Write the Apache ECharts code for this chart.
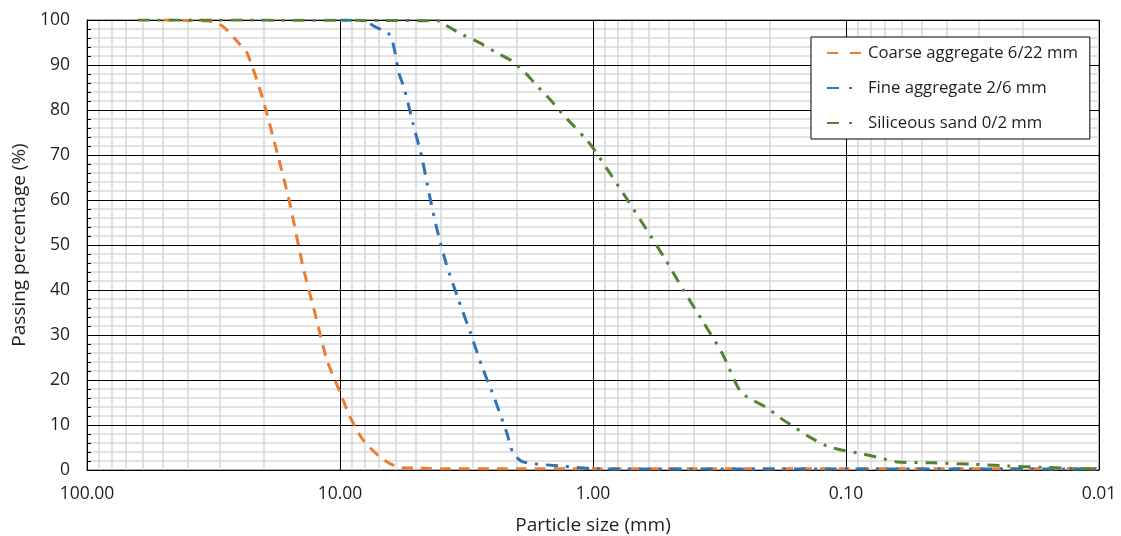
<!DOCTYPE html>
<html><head><meta charset="utf-8">
<script src="https://cdn.jsdelivr.net/npm/echarts@6/dist/echarts.min.js"></script>
<style>html,body{margin:0;padding:0;background:#fff}#c{width:1121px;height:536px}</style>
</head><body><div id="c"></div>
<script>
const seriesNames = ['Coarse aggregate 6/22 mm', 'Fine aggregate 2/6 mm', 'Siliceous sand 0/2 mm'];
const xTicks = [100, 10, 1, 0.1, 0.01];

const coarseSize = [50, 31.5, 28.5, 25, 23.3, 20.3, 17.7, 15.8, 14.0, 12.56, 11.26, 10, 9.13, 8.11, 6.95, 5.95, 5, 4, 2, 1, 0.5, 0.25, 0.125, 0.063, 0.02, 0.01];
const coarsePass = [100, 99.6, 98.2, 94.7, 92.7, 82.9, 70.4, 59.3, 45.1, 34.9, 24.4, 17.3, 11.8, 6.7, 2.9, 0.7, 0.4, 0.3, 0.3, 0.3, 0.3, 0.3, 0.3, 0.3, 0.3, 0.3];

const fineSize = [10, 8, 7.27, 6.46, 6.23, 6.06, 5.85, 5.58, 5.15, 4.74, 4.45, 4.14, 3.81, 3.42, 3.06, 2.75, 2.44, 2.19, 2.07, 1.89, 1.35, 1, 0.5, 0.1, 0.01];
const finePass = [100, 99.8, 98.5, 97.1, 95.6, 92.7, 88.2, 84.9, 77.1, 69.3, 61.6, 53.6, 46.0, 38.2, 30.7, 23.1, 15.6, 8.2, 3.8, 1.8, 0.9, 0.3, 0.2, 0.2, 0.2];

const sandSize = [63, 4, 3.78, 3.27, 2.80, 2.40, 2.09, 1.82, 1.66, 1.48, 1.33, 1.18, 1.07, 1.0, 0.88, 0.734, 0.617, 0.519, 0.437, 0.367, 0.309, 0.262, 0.235, 0.205, 0.182, 0.158, 0.139, 0.119, 0.103, 0.0865, 0.0734, 0.0629, 0.0453, 0.0324, 0.0231, 0.0168, 0.0119, 0.01];
const sandPass = [100, 99.8, 98.7, 96.7, 94.9, 92.7, 90.9, 87.8, 85.3, 82.4, 79.3, 76.2, 73.6, 71.6, 66.9, 60.2, 53.6, 46.9, 39.8, 32.9, 26.0, 17.5, 15.6, 13.8, 11.6, 9.3, 7.3, 5.3, 4.4, 3.6, 2.7, 1.8, 1.6, 1.3, 0.9, 0.6, 0.3, 0.2];

const colors = ['#ED7D31', '#2E75B6', '#548235'];
const FONT = 'Open Sans';
const TXT = '#1f1f1f';

function pairs(xs, ys) { return xs.map((x, i) => [x, ys[i]]); }

const minorGrid = [];
for (let k = -2; k <= 1; k++) for (let m = 2; m <= 9; m++) minorGrid.push(+(m * Math.pow(10, k)).toPrecision(3));

const chart = echarts.init(document.getElementById('c'), null, { renderer: 'canvas' });
const lineBase = { type: 'line', showSymbol: false, symbol: 'none', smooth: 0.25, z: 5, animation: false };
chart.setOption({
  animation: false,
  backgroundColor: '#fff',
  grid: { left: 87, right: 22, top: 20, bottom: 66, show: true, borderColor: '#595959', borderWidth: 1, backgroundColor: 'transparent',
    containLabel: false, outerBoundsMode: 'none' },
  legend: {
    orient: 'vertical', left: 811, top: 37,
    padding: [6, 12, 6, 15], itemGap: 15, itemWidth: 36, itemHeight: 20,
    borderColor: '#000', borderWidth: 1, backgroundColor: '#fff',
    itemStyle: { color: 'rgba(0,0,0,0)', borderWidth: 0, opacity: 0 },
    textStyle: { fontFamily: FONT, fontSize: 16.7, color: TXT, lineHeight: 20 },
    data: [
      { name: seriesNames[0], lineStyle: { type: [11, 12] } },
      { name: seriesNames[1], lineStyle: { type: [12, 10, 3, 30] } },
      { name: seriesNames[2], lineStyle: { type: [12, 10, 3, 30] } }
    ]
  },
  xAxis: {
    type: 'log', logBase: 10, min: 0.01, max: 100, inverse: true, z: 2,
    name: 'Particle size (mm)', nameLocation: 'middle', nameGap: 46,
    nameTextStyle: { fontFamily: FONT, fontSize: 19, color: TXT },
    axisLine: { show: true, onZero: false, lineStyle: { color: '#000', width: 1 } },
    axisTick: { show: false },
    axisLabel: { fontFamily: FONT, fontSize: 17.5, color: TXT, margin: 15, formatter: v => Number(v).toFixed(2),
      customValues: xTicks },
    splitLine: { show: true, lineStyle: { color: '#000', width: 1 } }
  },
  yAxis: {
    type: 'value', min: 0, max: 100, interval: 10, z: 2,
    name: 'Passing percentage (%)', nameLocation: 'middle', nameGap: 51, nameRotate: 90,
    nameTextStyle: { fontFamily: FONT, fontSize: 19, color: TXT },
    axisLine: { show: true, lineStyle: { color: '#000', width: 1 } },
    axisTick: { show: true, inside: true, length: 4, lineStyle: { color: '#000' } },
    minorTick: { show: true, splitNumber: 5, length: 4, lineStyle: { color: '#000' } },
    axisLabel: { fontFamily: FONT, fontSize: 17.5, color: TXT, margin: 17 },
    splitLine: { show: true, lineStyle: { color: '#000', width: 1 } },
    minorSplitLine: { show: true, lineStyle: { color: '#d9d9d9', width: 1.5 } }
  },
  series: [
    {
      type: 'line', name: '__grid', data: [], z: 1, silent: true, symbol: 'none',
      markLine: { silent: true, symbol: 'none', z: 1, animation: false, label: { show: false },
        lineStyle: { color: '#d9d9d9', width: 1.5, type: 'solid' },
        emphasis: { disabled: true },
        data: minorGrid.map(v => ({ xAxis: v })) }
    },
    Object.assign({}, lineBase, { name: seriesNames[0], data: pairs(coarseSize, coarsePass), color: colors[0],
      lineStyle: { color: colors[0], width: 3, type: [11, 8] } }),
    Object.assign({}, lineBase, { name: seriesNames[1], data: pairs(fineSize, finePass), color: colors[1],
      lineStyle: { color: colors[1], width: 3, type: [12, 8, 3, 8] } }),
    Object.assign({}, lineBase, { name: seriesNames[2], data: pairs(sandSize, sandPass), color: colors[2],
      lineStyle: { color: colors[2], width: 3, type: [12, 8, 3, 8] } })
  ]
});
</script></body></html>
